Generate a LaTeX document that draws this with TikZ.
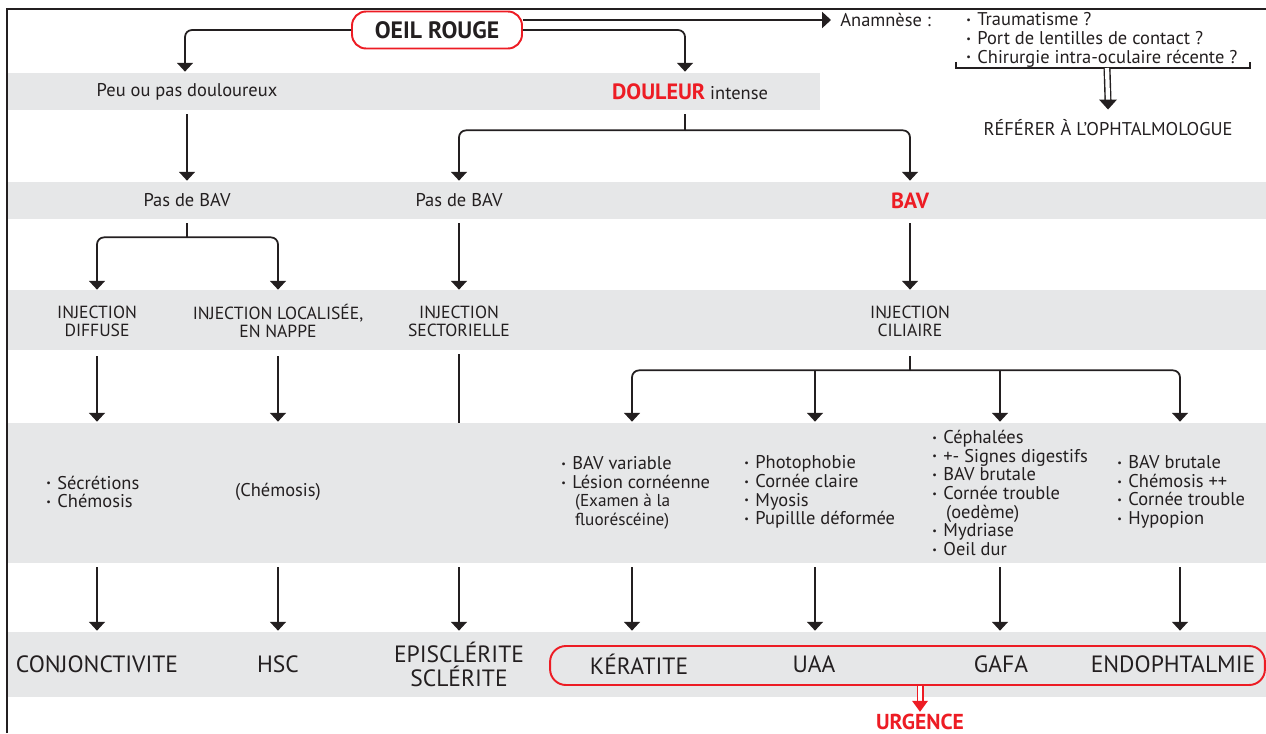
\documentclass[tikz,border=0pt]{standalone}
\usepackage{fontspec}
\setmainfont{PT Sans}
\usepackage{graphicx}
\usetikzlibrary{arrows.meta,calc}
\definecolor{bandgray}{RGB}{230,231,232}
\definecolor{ink}{RGB}{35,31,32}
\definecolor{redx}{RGB}{237,28,36}
\newcommand{\bl}{\raisebox{0.25ex}{\scalebox{0.55}{•}}\hspace{0.35em}}
\begin{document}
\begin{tikzpicture}[x=0.02cm,y=-0.02cm,
  conn/.style={draw=ink,line width=1pt},
  arr/.style={conn,-{Triangle[width=9pt,length=5pt]}},
  rc/.style={rounded corners=4pt},
  txt/.style={inner sep=0pt,text=ink,font=\fontsize{10.5}{12}\selectfont},
  rowA/.style={txt,minimum height=0.74cm},
  rowC/.style={txt,minimum height=1.2cm,align=center,font=\fontsize{10}{10.4}\selectfont},
  slot/.style={inner sep=0pt,minimum width=0pt,minimum height=2.8cm},
  rowE/.style={txt,minimum height=1.3cm,align=center,font=\fontsize{13.4}{13.8}\selectfont},
  lst/.style={txt,anchor=west,align=left,font=\fontsize{10.5}{10.6}\selectfont},
  redbold/.style={text=redx,font=\fontsize{12.5}{14}\selectfont\bfseries},
  dbl/.style={draw=#1,line width=0.8pt,double=white,double distance=2.4pt}
]
\useasboundingbox (0,0) rectangle (1266,733);
% bands
\fill[bandgray] (7,73) rectangle (820,110);
\fill[bandgray] (7,182) rectangle (1266,219);
\fill[bandgray] (7,290) rectangle (1266,350);
\fill[bandgray] (7,423) rectangle (1266,563);
\fill[bandgray] (7,632) rectangle (1266,697);
% frame
\draw[ink,line width=0.9pt] (7,733) -- (7,9) -- (1266,9);

% top
\node[draw=redx,line width=1.1pt,rounded corners=8pt,minimum width=3.4cm,minimum height=0.74cm,
      text=ink,font=\fontsize{13.5}{16}\selectfont\bfseries] (oeil) at (437,30) {OEIL ROUGE};
\node[txt,anchor=west] (anam) at (840,20) {Anamnèse :};
\node[lst] (anl) at (966,40) {\bl Traumatisme ?\\ \bl Port de lentilles de contact ?\\ \bl Chirurgie intra-oculaire récente ?};
\node[txt] (ref) at (1108,128) {RÉFÉRER À L’OPHTALMOLOGUE};
\coordinate (brL) at (956,62);
\coordinate (brR) at (1250,62);
\coordinate (brk) at (1107,68);

% row A
\node[rowA] (peu) at (187,91.5) {Peu ou pas douloureux};
\node[rowA] (dou) at (690,91.5) {\textcolor{redx}{\fontsize{12.6}{14}\selectfont\bfseries DOULEUR} intense};
% row B
\node[rowA] (pas1) at (187,200.5) {Pas de BAV};
\node[rowA] (pas2) at (459,200.5) {Pas de BAV};
\node[rowA,redbold] (bav) at (910,200.5) {BAV};
% row C
\node[rowC] (injD) at (97,321) {INJECTION\\DIFFUSE};
\node[rowC] (injL) at (278,321) {INJECTION LOCALISÉE,\\EN NAPPE};
\node[rowC] (injS) at (459,321) {INJECTION\\SECTORIELLE};
\node[rowC] (injC) at (910,321) {INJECTION\\CILIAIRE};
% row D slots
\node[slot] (sD) at (97,493) {};
\node[slot] (sL) at (278,493) {};
\node[slot] (sS) at (459,493) {};
\node[slot] (sK) at (632,493) {};
\node[slot] (sU) at (815,493) {};
\node[slot] (sG) at (1000,493) {};
\node[slot] (sE) at (1180,493) {};
% row D texts
\node[lst] (tD) at (46,492) {\bl Sécrétions\\ \bl Chémosis};
\node[txt] (tL) at (278,492) {(Chémosis)};
\node[lst] (tK) at (561,493) {\bl BAV variable\\ \bl Lésion cornéenne\\ \hspace{0.75em}{\fontsize{9.8}{10.6}\selectfont(Examen à la}\\ \hspace{0.75em}{\fontsize{9.8}{10.6}\selectfont fluoréscéine)}};
\node[lst] (tU) at (744,492) {\bl Photophobie\\ \bl Cornée claire\\ \bl Myosis\\ \bl Pupillle déformée};
\node[lst] (tG) at (932,493) {\bl Céphalées\\ \bl +- Signes digestifs\\ \bl BAV brutale\\ \bl Cornée trouble\\ \hspace{0.75em}(oedème)\\ \bl Mydriase\\ \bl Oeil dur};
\node[lst] (tE) at (1117,492) {\bl BAV brutale\\ \bl Chémosis ++\\ \bl Cornée trouble\\ \bl Hypopion};
% row E
\node[rowE] (conj) at (97,664.5) {CONJONCTIVITE};
\node[rowE] (hsc) at (278,664.5) {HSC};
\node[rowE] (epi) at (459,664.5) {EPISCLÉRITE\\SCLÉRITE};
\node[draw=redx,line width=1.1pt,rounded corners=9pt,minimum width=14.3cm,minimum height=0.78cm] (ubox) at (907.5,665.5) {};
\node[rowE] (ker) at (639,664.5) {KÉRATITE};
\node[rowE] (uaa) at (814,664.5) {UAA};
\node[rowE] (gafa) at (1001,664.5) {GAFA};
\node[rowE] (endo) at (1173,664.5) {ENDOPHTALMIE};
\node[txt,redbold,font=\fontsize{12.3}{14}\selectfont\bfseries] (urg) at (920,722) {URGENCE};

% connectors top
\draw[arr,rc] (oeil.west) -| ($(peu.north)+(-2,-1)$);
\draw[arr,rc] (oeil.east) -| ($(dou.north)+(-5,-1)$);
\draw[arr] ($(oeil.east)+(0,-10)$) -- ($(anam.west)+(-9,0)$);
\draw[ink,line width=0.7pt] (brL) |- (brk) -| (brR);
\coordinate (rtip) at ($(ref.north)+(0,-10)$);
\draw[dbl=ink] (brk) -- ($(rtip)+(0,-9)$);
\fill[ink] ($(rtip)+(-9,-10)$) -- ($(rtip)+(9,-10)$) -- (rtip) -- cycle;

% row A -> B
\draw[arr] ($(peu.south)+(0,4)$) -- ($(pas1.north)+(0,-1)$);
\draw[conn] ($(dou.south)+(-5,4)$) -- ($(dou.south)+(-5,20)$) coordinate (jA);
\draw[arr,rc] (jA) -| ($(pas2.north)+(0,-1)$);
\draw[arr,rc] (jA) -| ($(bav.north)+(0,-1)$);
% row B -> C
\draw[conn] ($(pas1.south)+(0,4)$) -- ($(pas1.south)+(0,18)$) coordinate (jB);
\draw[arr,rc] (jB) -| ($(injD.north)+(0,-1)$);
\draw[arr,rc] (jB) -| ($(injL.north)+(0,-1)$);
\draw[arr] ($(pas2.south)+(0,4)$) -- ($(injS.north)+(0,-1)$);
\draw[arr] ($(bav.south)+(0,4)$) -- ($(injC.north)+(0,-1)$);
% row C -> D
\draw[arr] ($(injD.south)+(0,5)$) -- ($(sD.north)+(0,-1)$);
\draw[arr] ($(injL.south)+(0,5)$) -- ($(sL.north)+(0,-1)$);
\draw[conn] ($(injS.south)+(0,3)$) -- (sS.north);
\draw[conn] ($(injC.south)+(0,5)$) -- ($(injC.south)+(0,19)$) coordinate (jC);
\draw[arr,rc] (jC) -| ($(sK.north)+(0,-1)$);
\draw[arr,rc] (jC) -| ($(sE.north)+(0,-1)$);
\draw[arr] (jC -| sU) -- ($(sU.north)+(0,-1)$);
\draw[arr] (jC -| sG) -- ($(sG.north)+(0,-1)$);
% row D -> E
\draw[arr] ($(sD.south)+(0,4)$) -- ($(conj.north)+(0,-1)$);
\draw[arr] ($(sL.south)+(0,4)$) -- ($(hsc.north)+(0,-1)$);
\draw[arr] ($(sS.south)+(0,4)$) -- ($(epi.north)+(0,-1)$);
\draw[arr] ($(sK.south)+(0,4)$) -- ($(sK |- ker.north)+(0,-1)$);
\draw[arr] ($(sU.south)+(0,4)$) -- ($(sU |- uaa.north)+(0,-1)$);
\draw[arr] ($(sG.south)+(0,4)$) -- ($(sG |- gafa.north)+(0,-1)$);
\draw[arr] ($(sE.south)+(0,4)$) -- ($(sE |- endo.north)+(0,-1)$);
% urgence
\coordinate (us) at ($(urg.north -| 920,0)+(0,-2)$);
\draw[dbl=redx] (920,685.5) -- ($(us)+(0,-10)$);
\fill[redx] ($(us)+(-8,-11)$) -- ($(us)+(8,-11)$) -- (us) -- cycle;
\end{tikzpicture}
\end{document}
